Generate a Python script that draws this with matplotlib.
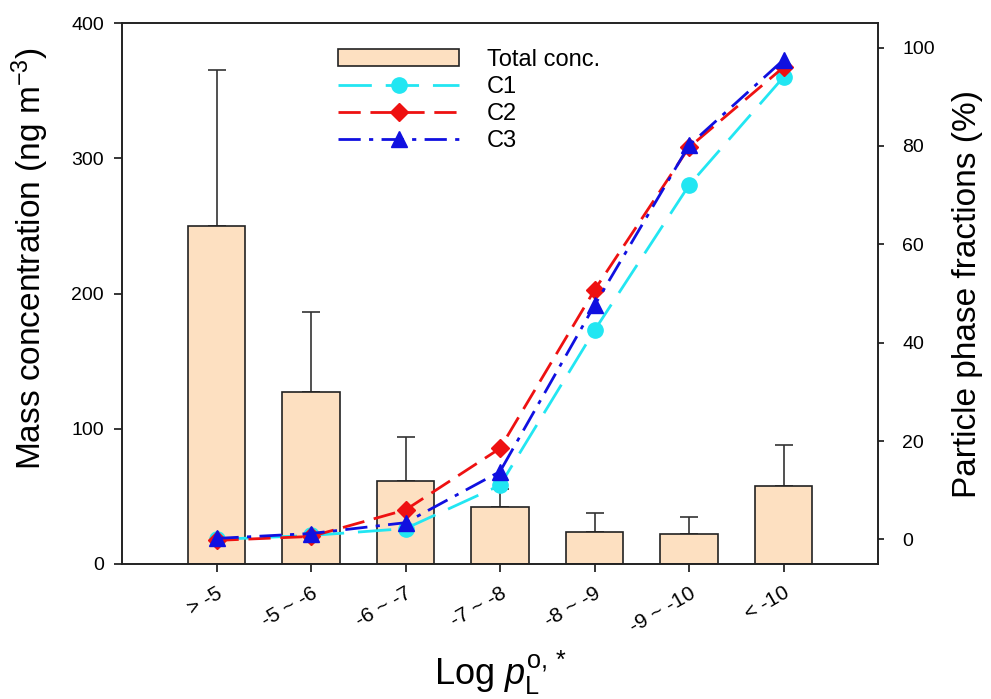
import matplotlib
matplotlib.use('Agg')
import matplotlib.pyplot as plt
import numpy as np

plt.rcParams['font.family'] = ['Liberation Sans', 'DejaVu Sans']
plt.rcParams['mathtext.fontset'] = 'custom'
plt.rcParams['mathtext.rm'] = 'Liberation Sans'
plt.rcParams['mathtext.it'] = 'Liberation Sans:italic'

# data
categories = ['> -5', '-5 ~ -6', '-6 ~ -7', '-7 ~ -8', '-8 ~ -9', '-9 ~ -10', '< -10']
total_conc = [250, 127, 61.5, 42.5, 24, 22, 58]
total_err = [115, 59, 32.5, 13, 13.5, 13, 30]
c1 = [0, 0.8, 2.2, 11, 42.5, 72, 94]
c2 = [-0.2, 0.6, 6, 18.5, 50.7, 79.7, 96]
c3 = [0.2, 1.2, 3.4, 13.8, 47.6, 80.1, 97.5]

x = np.arange(len(categories))

fig = plt.figure(figsize=(9.91, 6.99), dpi=100)
ax = fig.add_axes([122/991, 1-564/699, 756/991, 541/699])
ax2 = ax.twinx()

bars = ax.bar(x, total_conc, 0.61, color='#fde0c1', edgecolor='#222222',
              linewidth=1.2, label='Total conc.', zorder=2)
ax.errorbar(x, total_conc, yerr=[np.zeros(len(x)), total_err], fmt='none',
            ecolor='#333333', elinewidth=1.2, capsize=6.5, capthick=1.2, zorder=1)

l1, = ax2.plot(x, c1, color='#22e6f2', lw=2, dashes=(12, 5), marker='o',
               markersize=11, label='C1')
l2, = ax2.plot(x, c2, color='#ee1111', lw=2, dashes=(8, 3.5), marker='D',
               markersize=9.5, label='C2')
l3, = ax2.plot(x, c3, color='#1010e0', lw=2, dashes=(8, 3, 1.5, 3), marker='^',
               markersize=11, label='C3')

ax.set_xlim(-1, 7)
ax.set_ylim(0, 400)
ax2.set_ylim(-5, 105)
ax.set_yticks([0, 100, 200, 300, 400])
ax2.set_yticks([0, 20, 40, 60, 80, 100])
ax.set_xticks(x)
ax.set_xticklabels(categories, rotation=30, ha='right', va='top',
                   rotation_mode='anchor', fontsize=15)

ax.tick_params(axis='x', direction='out', length=6, width=1.1, pad=8)
ax.tick_params(axis='y', direction='out', length=6, width=1.1, labelsize=14, pad=7)
ax2.tick_params(axis='y', direction='out', length=4.5, width=1.1, labelsize=14, pad=13)
for a in (ax, ax2):
    for s in a.spines.values():
        s.set_linewidth(1.2)
        s.set_color('#222222')

ax.set_ylabel('Mass concentration (ng m$^{-3}$)', fontsize=24)
ax.yaxis.set_label_coords(-0.094, 0.565)
ax2.set_ylabel('Particle phase fractions (%)', fontsize=24, labelpad=12)
ax.set_xlabel(r'Log $p^{\mathrm{o,*}}_{\mathrm{L}}$', fontsize=26, labelpad=9)

ax2.legend([bars, l1, l2, l3], ['Total conc.', 'C1', 'C2', 'C3'],
           loc='upper left', bbox_to_anchor=(0.258, 0.992), frameon=False,
           fontsize=17, handlelength=5.1, handletextpad=1.2, labelspacing=0.22,
           numpoints=1)

fig.savefig('out.png', dpi=100)
